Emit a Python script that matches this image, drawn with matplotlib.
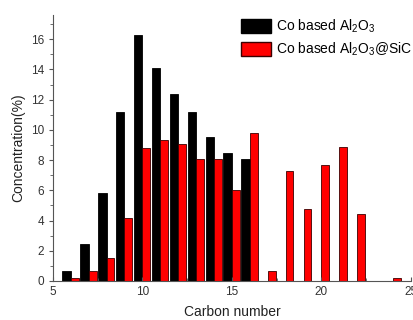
import matplotlib
matplotlib.use("Agg")
import matplotlib.pyplot as plt
from matplotlib.patches import Patch
from matplotlib.ticker import MultipleLocator

plt.rcParams['font.family'] = ['Liberation Sans', 'DejaVu Sans']
plt.rcParams['mathtext.fontset'] = 'custom'
plt.rcParams['mathtext.rm'] = 'Liberation Sans'
plt.rcParams['mathtext.it'] = 'Liberation Sans'

# Carbon number distributions
carbon_al2o3 = [6, 7, 8, 9, 10, 11, 12, 13, 14, 15, 16]
conc_al2o3 = [0.65, 2.45, 5.8, 11.15, 16.25, 14.1, 12.38, 11.2, 9.55, 8.45, 8.08]

carbon_sic = [6, 7, 8, 9, 10, 11, 12, 13, 14, 15, 16, 17, 18, 19, 20, 21, 22, 23, 24]
conc_sic = [0.2, 0.65, 1.5, 4.2, 8.83, 9.3, 9.05, 8.08, 8.05, 6.03, 9.8,
            0.65, 7.3, 4.77, 7.7, 8.85, 4.4, 0.0, 0.2]

label_a = r"Co based Al$_2$O$_3$"
label_b = r"Co based Al$_2$O$_3$@SiC"

fig = plt.figure(figsize=(4.13, 3.2), dpi=100)
ax = fig.add_axes([0.128, 0.122, 0.867, 0.831])

# black bars sit just left of each carbon number, red bars just right
ax.bar(carbon_al2o3, conc_al2o3, width=-0.47, align='edge',
       color='black', edgecolor='black', linewidth=0.6)
ax.bar(carbon_sic, conc_sic, width=0.44, align='edge',
       color='#ff0000', edgecolor='#3a0000', linewidth=0.6)

ax.set_xlim(5, 25)
ax.set_ylim(0, 17.6)
ax.xaxis.set_major_locator(MultipleLocator(5))
ax.xaxis.set_minor_locator(MultipleLocator(2.5))
ax.yaxis.set_major_locator(MultipleLocator(2))
ax.yaxis.set_minor_locator(MultipleLocator(1))

for side in ['top', 'right']:
    ax.spines[side].set_visible(False)
for side in ['left', 'bottom']:
    ax.spines[side].set_color('#555555')
    ax.spines[side].set_linewidth(0.8)

ax.tick_params(axis='x', which='both', direction='in', colors='#555555',
               labelcolor='#333333', labelsize=8.5)
ax.tick_params(axis='x', which='major', length=3)
ax.tick_params(axis='x', which='minor', length=2)
ax.tick_params(axis='y', which='both', direction='out', colors='#555555',
               labelcolor='#333333', labelsize=8.5)
ax.tick_params(axis='y', which='major', length=3)
ax.tick_params(axis='y', which='minor', length=2)

ax.set_xlabel("Carbon number", fontsize=10, color='#222222', labelpad=5)
ax.set_ylabel("Concentration(%)", fontsize=10, color='#222222', labelpad=4)

handles = [Patch(facecolor='black', edgecolor='black', label=label_a),
           Patch(facecolor='#ff0000', edgecolor='#3a0000', label=label_b)]
fig.legend(handles=handles, loc='upper left', bbox_to_anchor=(0.583, 0.945),
           frameon=False, fontsize=10, handlelength=2.2, handleheight=1.15,
           handletextpad=0.3, labelspacing=0.42, borderpad=0.0,
           borderaxespad=0.0)

fig.savefig("out.png", dpi=100)
